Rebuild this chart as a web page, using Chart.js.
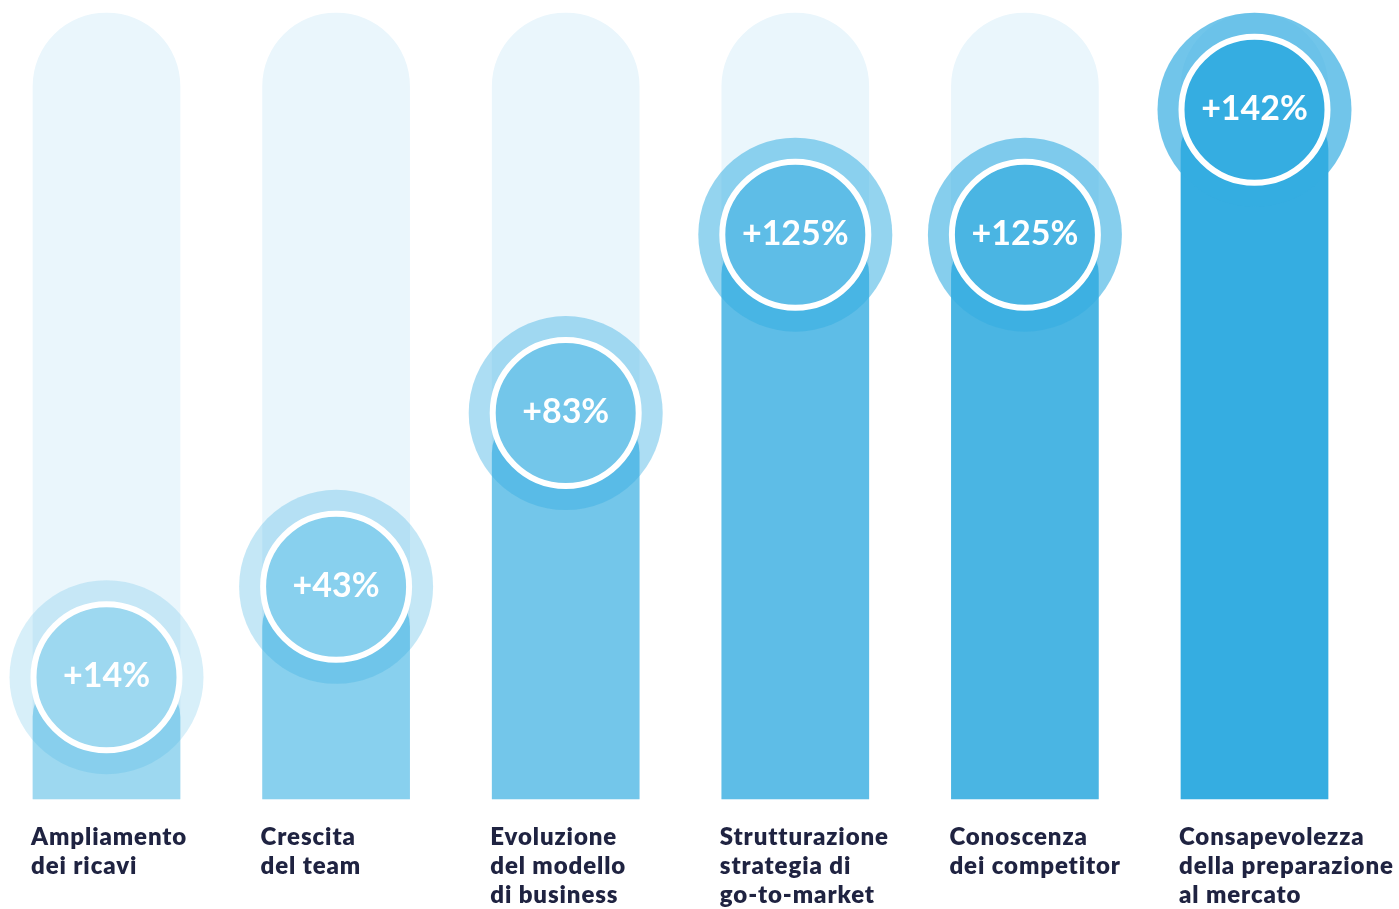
<!DOCTYPE html>
<html>
<head>
<meta charset="utf-8">
<script src="https://cdn.jsdelivr.net/npm/chart.js@4/dist/chart.umd.min.js"></script>
<style>
    html, body { margin: 0; background: #ffffff; }
    canvas { display: block; }
</style>
</head>
<body>
<canvas id="chart" width="1399" height="909"></canvas>
<script>
/* global Chart */

const CATEGORIES = [
    ["Ampliamento", "dei ricavi"],
    ["Crescita", "del team"],
    ["Evoluzione", "del modello", "di business"],
    ["Strutturazione", "strategia di", "go-to-market"],
    ["Conoscenza", "dei competitor"],
    ["Consapevolezza", "della preparazione", "al mercato"],
];
const GROWTH = [14, 43, 83, 125, 125, 142];
// bar level, on a 0-100 track
const LEVELS = [15.5, 27, 49.1, 71.8, 71.8, 87.7];
const TRACK = [100, 100, 100, 100, 100, 100];

const BAR_COLORS = ["#9dd8f0", "#88d0ee", "#73c6ea", "#5ebde7", "#4ab5e3", "#35ade1"],
    HALO_ALPHA = [0.2, 0.29, 0.41, 0.53, 0.6, 0.7],
    TRACK_COLOR = "#eaf6fc",
    LABEL_COLOR = "#1f2341",
    BAR_WIDTH = 147,
    HALO_RADIUS = 97,
    RING_RADIUS = 73,
    LABEL_FONT = "800 24px Lato",
    VALUE_FONT = "700 34px Lato";

const badgePlugin = {
    id: "badges",
    afterDatasetsDraw(chart) {
        const ctx = chart.ctx;
        const meta = chart.getDatasetMeta(0);
        const area = chart.chartArea;
        ctx.save();
        meta.data.forEach((bar, i) => {
            const x = bar.x, y = bar.y;
            // halo
            ctx.beginPath();
            ctx.arc(x, y, HALO_RADIUS, 0, Math.PI * 2);
            ctx.fillStyle = "rgba(53,173,225," + HALO_ALPHA[i] + ")";
            ctx.fill();
            // inner disc with white ring
            ctx.beginPath();
            ctx.arc(x, y, RING_RADIUS, 0, Math.PI * 2);
            ctx.fillStyle = BAR_COLORS[i];
            ctx.fill();
            ctx.lineWidth = 6;
            ctx.strokeStyle = "#ffffff";
            ctx.stroke();
            // value text
            ctx.fillStyle = "#ffffff";
            ctx.font = VALUE_FONT;
            ctx.letterSpacing = "0px";
            ctx.textAlign = "center";
            ctx.textBaseline = "middle";
            ctx.fillText("+" + GROWTH[i] + "%", x, y - 1);
            // category label under the bar
            ctx.fillStyle = LABEL_COLOR;
            ctx.font = LABEL_FONT;
            ctx.letterSpacing = "0.9px";
            ctx.textAlign = "left";
            CATEGORIES[i].forEach((line, k) => {
                ctx.fillText(line, x - BAR_WIDTH / 2 - 2, area.bottom + 38 + k * 29);
            });
        });
        ctx.restore();
    },
};

new Chart(document.getElementById("chart").getContext("2d"), {
    type: "bar",
    data: {
        labels: CATEGORIES,
        datasets: [
            {
                data: LEVELS,
                backgroundColor: BAR_COLORS,
                borderWidth: 0,
                borderSkipped: false,
                borderRadius: { topLeft: 40, topRight: 40, bottomLeft: 0, bottomRight: 0 },
                barThickness: BAR_WIDTH,
                grouped: false,
                clip: false,
                order: 1,
            },
            {
                data: TRACK,
                backgroundColor: TRACK_COLOR,
                borderWidth: 0,
                borderSkipped: false,
                borderRadius: { topLeft: 73.5, topRight: 73.5, bottomLeft: 0, bottomRight: 0 },
                barThickness: BAR_WIDTH,
                grouped: false,
                clip: false,
                order: 2,
            },
        ],
    },
    options: {
        responsive: false,
        devicePixelRatio: 1,
        animation: false,
        events: [],
        layout: {
            padding: { left: 106.5, right: 144.5, top: 13, bottom: 110 },
        },
        plugins: {
            legend: { display: false },
            tooltip: { enabled: false },
        },
        scales: {
            x: { display: false, offset: false },
            y: { display: false, min: 0, max: 100 },
        },
    },
    plugins: [badgePlugin],
});
</script>
</body>
</html>
